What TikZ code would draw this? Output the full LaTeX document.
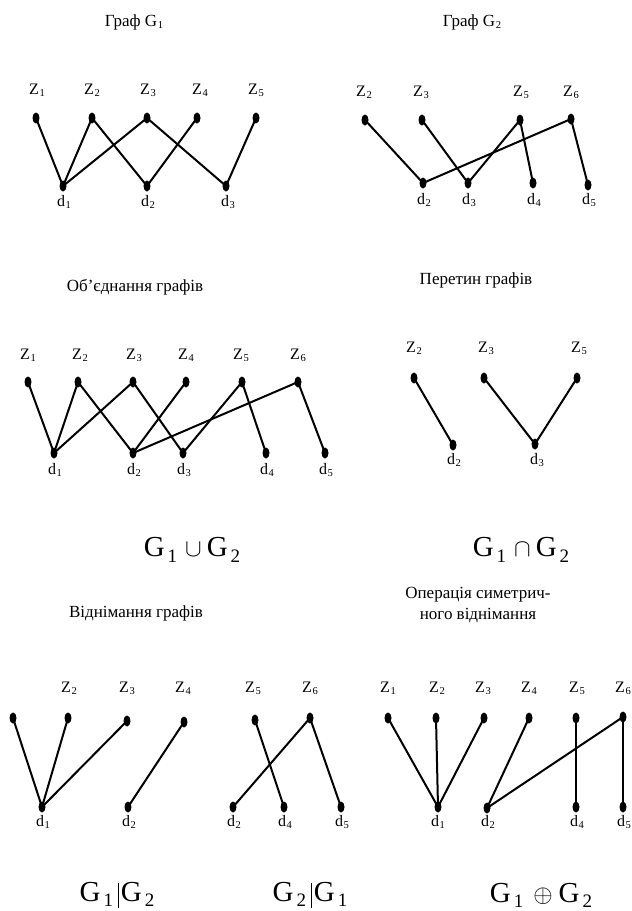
\documentclass[tikz,border=0pt]{standalone}
\usepackage{fontspec}
\setmainfont{Liberation Serif}
\usetikzlibrary{shapes.geometric}
\newcommand\zsub[2]{#1\kern0.6pt\raisebox{-0.3ex}{\fontsize{10.5}{11}\selectfont #2}}
\newcommand\gsub[1]{\kern3pt\raisebox{-0.18em}{\fontsize{19}{19}\selectfont #1}}
\begin{document}
\begin{tikzpicture}[x=1pt,y=-1pt,
 vtx/.style={ellipse,fill=black,minimum width=7pt,minimum height=11pt,inner sep=0pt},
 edge/.style={line width=2pt},
 lab/.style={font=\fontsize{16}{16}\selectfont,inner sep=0pt},
 ttl/.style={font=\fontsize{17}{21}\selectfont,inner sep=0pt,align=center},
 frm/.style={font=\fontsize{29}{29}\selectfont,inner sep=0pt}]
\useasboundingbox (0,0) rectangle (632,911);

% ---------- Graph G1 ----------
\node[ttl] (t1) at (134,22) {Граф \zsub{G}{1}};
\foreach \n/\x/\y in {az1/36/118, az2/92/118, az3/147/118, az4/197/118, az5/256/118,
                      ad1/63/186, ad2/147/186, ad3/226/186}
  \node[vtx] (\n) at (\x,\y) {};
\foreach \n/\x/\t/\s in {laz1/37/Z/1, laz2/92/Z/2, laz3/148/Z/3, laz4/200/Z/4, laz5/256/Z/5}
  \node[lab] (\n) at (\x,90) {\zsub{\t}{\s}};
\foreach \n/\x/\s in {lad1/64/1, lad2/148/2, lad3/228/3}
  \node[lab] (\n) at (\x,202) {\zsub{d}{\s}};
\foreach \a/\b in {az1/ad1, az2/ad1, az3/ad1, az2/ad2, az4/ad2, az3/ad3, az5/ad3}
  \draw[edge] (\a.center) -- (\b.center);

% ---------- Graph G2 ----------
\node[ttl] (t2) at (472,22) {Граф \zsub{G}{2}};
\foreach \n/\x/\y in {bz2/365/120, bz3/422/120, bz5/520/120, bz6/571/119,
                      bd2/423/183, bd3/468/183, bd4/533/183, bd5/588/185}
  \node[vtx] (\n) at (\x,\y) {};
\foreach \n/\x/\s in {lbz2/364/2, lbz3/421/3, lbz5/521/5, lbz6/571/6}
  \node[lab] (\n) at (\x,92) {\zsub{Z}{\s}};
\foreach \n/\x/\s in {lbd2/424/2, lbd3/469/3, lbd4/534/4, lbd5/589/5}
  \node[lab] (\n) at (\x,200) {\zsub{d}{\s}};
\foreach \a/\b in {bz2/bd2, bz3/bd3, bz5/bd3, bz5/bd4, bz6/bd2, bz6/bd5}
  \draw[edge] (\a.center) -- (\b.center);

% ---------- Union ----------
\node[ttl] (t3) at (135,287) {Об’єднання графів};
\foreach \n/\x/\y in {cz1/28/382, cz2/78/382, cz3/133/382, cz4/186/382, cz5/242/382, cz6/298/382,
                      cd1/54/453, cd2/133/453, cd3/183/453, cd4/266/453, cd5/325/453}
  \node[vtx] (\n) at (\x,\y) {};
\foreach \n/\x/\s in {lcz1/28/1, lcz2/80/2, lcz3/134/3, lcz4/186/4, lcz5/241/5, lcz6/298/6}
  \node[lab] (\n) at (\x,355) {\zsub{Z}{\s}};
\foreach \n/\x/\s in {lcd1/55/1, lcd2/134/2, lcd3/184/3, lcd4/267/4, lcd5/326/5}
  \node[lab] (\n) at (\x,470) {\zsub{d}{\s}};
\foreach \a/\b in {cz1/cd1, cz2/cd1, cz3/cd1, cz2/cd2, cz4/cd2, cz3/cd3, cz5/cd3, cz5/cd4, cz6/cd2, cz6/cd5}
  \draw[edge] (\a.center) -- (\b.center);
\node[frm] (f1) at (192,550) {G\gsub{1}\kern8pt$\cup$\kern5pt G\gsub{2}};

% ---------- Intersection ----------
\node[ttl] (t4) at (476,280) {Перетин графів};
\foreach \n/\x/\y in {ez2/414/378, ez3/484/378, ez5/577/378, ed2/453/445, ed3/535/444}
  \node[vtx] (\n) at (\x,\y) {};
\foreach \n/\x/\s in {lez2/414/2, lez3/486/3, lez5/579/5}
  \node[lab] (\n) at (\x,348) {\zsub{Z}{\s}};
\node[lab] (led2) at (454,460) {\zsub{d}{2}};
\node[lab] (led3) at (537,460) {\zsub{d}{3}};
\foreach \a/\b in {ez2/ed2, ez3/ed3, ez5/ed3}
  \draw[edge] (\a.center) -- (\b.center);
\node[frm] (f2) at (521,550) {G\gsub{1}\kern8pt$\cap$\kern5pt G\gsub{2}};

% ---------- G1 \ G2 ----------
\node[ttl] (t5) at (136,613) {Віднімання графів};
\foreach \n/\x/\y in {gz1/13/718, gz2/68/718, gz3/127/721, gz4/184/722, gd1/42/807, gd2/128/807}
  \node[vtx] (\n) at (\x,\y) {};
\foreach \n/\x/\s in {lgz2/69/2, lgz3/127/3, lgz4/183/4}
  \node[lab] (\n) at (\x,688) {\zsub{Z}{\s}};
\node[lab] (lgd1) at (43,822) {\zsub{d}{1}};
\node[lab] (lgd2) at (129,822) {\zsub{d}{2}};
\foreach \a/\b in {gz1/gd1, gz2/gd1, gz3/gd1, gz4/gd2}
  \draw[edge] (\a.center) -- (\b.center);
\node[frm] (f3) at (117,895) {G\gsub{1}\kern5pt\rule[-6pt]{0.9pt}{25pt}\kern2pt G\gsub{2}};

% ---------- G2 \ G1 ----------
\foreach \n/\x/\y in {hz5/255/720, hz6/310/718, hd2/233/807, hd4/284/807, hd5/341/807}
  \node[vtx] (\n) at (\x,\y) {};
\node[lab] (lhz5) at (253,688) {\zsub{Z}{5}};
\node[lab] (lhz6) at (310,688) {\zsub{Z}{6}};
\foreach \n/\x/\s in {lhd2/234/2, lhd4/285/4, lhd5/342/5}
  \node[lab] (\n) at (\x,822) {\zsub{d}{\s}};
\foreach \a/\b in {hz5/hd4, hz6/hd2, hz6/hd5}
  \draw[edge] (\a.center) -- (\b.center);
\node[frm] (f4) at (310,895) {G\gsub{2}\kern5pt\rule[-6pt]{0.9pt}{25pt}\kern2pt G\gsub{1}};

% ---------- Symmetric difference ----------
\node[ttl] (t6) at (478,605) {Операція симетрич-\\ного віднімання};
\foreach \n/\x/\y in {kz1/388/718, kz2/436/718, kz3/484/718, kz4/529/718, kz5/576/718, kz6/623/717,
                      kd1/438/807, kd2/487/808, kd4/576/807, kd5/623/807}
  \node[vtx] (\n) at (\x,\y) {};
\foreach \n/\x/\s in {lkz1/388/1, lkz2/437/2, lkz3/483/3, lkz4/529/4, lkz5/577/5, lkz6/623/6}
  \node[lab] (\n) at (\x,688) {\zsub{Z}{\s}};
\foreach \n/\x/\s in {lkd1/438/1, lkd2/488/2, lkd4/577/4, lkd5/624/5}
  \node[lab] (\n) at (\x,822) {\zsub{d}{\s}};
\foreach \a/\b in {kz1/kd1, kz2/kd1, kz3/kd1, kz4/kd2, kz6/kd2, kz5/kd4, kz6/kd5}
  \draw[edge] (\a.center) -- (\b.center);
\node[frm] (f5) at (541,895) {G\gsub{1}\kern10pt$\oplus$\kern6pt G\gsub{2}};
\end{tikzpicture}
\end{document}
